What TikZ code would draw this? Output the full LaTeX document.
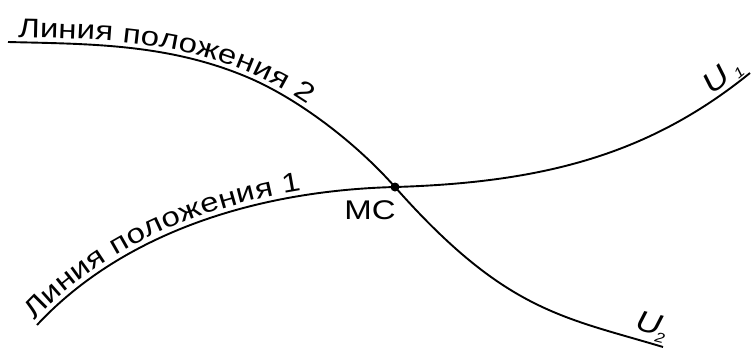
\documentclass[tikz,border=0pt]{standalone}
\usepackage{fontspec}
\setmainfont{Liberation Sans}
\newfontfamily\labfam[FakeStretch=1.22]{Liberation Sans}
\newcommand\labfont{\labfam\fontsize{27}{32}\selectfont}
\newcommand\ufont{\labfam\itshape\fontsize{29}{34}\selectfont}
\newcommand\subfont{\labfam\itshape\fontsize{14}{16}\selectfont}
\usetikzlibrary{decorations.text}
\begin{document}
\begin{tikzpicture}[x=1pt,y=-1pt,
  curve/.style={line width=1.9pt},
  pathlabel/.style={decorate,decoration={text along path,raise=5pt,text align={left indent=#1}}},
  ulabel/.style={font=\labfont,inner sep=0pt}]
\useasboundingbox (0,0) rectangle (753,349);
\coordinate (a1) at (37,325);
\coordinate (e1) at (750,73);
\coordinate (s2) at (8,42);
\coordinate (q2) at (247,77);
\coordinate (e2) at (663,347);
\node[circle,fill,inner sep=0pt,minimum size=9pt] (mc) at (395,187) {};
% curve 1
\draw[curve] (a1) .. controls (117,239) and (245,191) .. (mc.center)
                  .. controls (545,182.5) and (650,154) .. (e1);
% curve 2
\draw[curve] (s2) .. controls (88,44) and (167,43.4) .. (q2)
                  .. controls (297,98) and (355,141.8) .. (mc.center)
                  .. controls (505,311.3) and (563,317) .. (e2);
% text along curves
\path[pathlabel=1pt,decoration={text={|\labfont|Линия положения 1}}]
  (a1) .. controls (117,239) and (245,191) .. (mc.center);
\path[pathlabel=10pt,decoration={text={|\labfont|Линия положения 2}}]
  (s2) .. controls (88,44) and (167,43.4) .. (q2)
       .. controls (297,98) and (355,141.8) .. (mc.center);
% labels
\node[ulabel] (mclabel) at (370,210) {MC};
\node[ulabel,font=\ufont,rotate=40,anchor=base west] (u1) at (712,96) {U\hspace{5pt}\raisebox{-0.3ex}{\subfont 1}};
\node[ulabel,font=\ufont,rotate=-14,anchor=base west] (u2) at (634,329) {U\hspace{-3pt}\raisebox{-0.5ex}{\subfont 2}};
\end{tikzpicture}
\end{document}
